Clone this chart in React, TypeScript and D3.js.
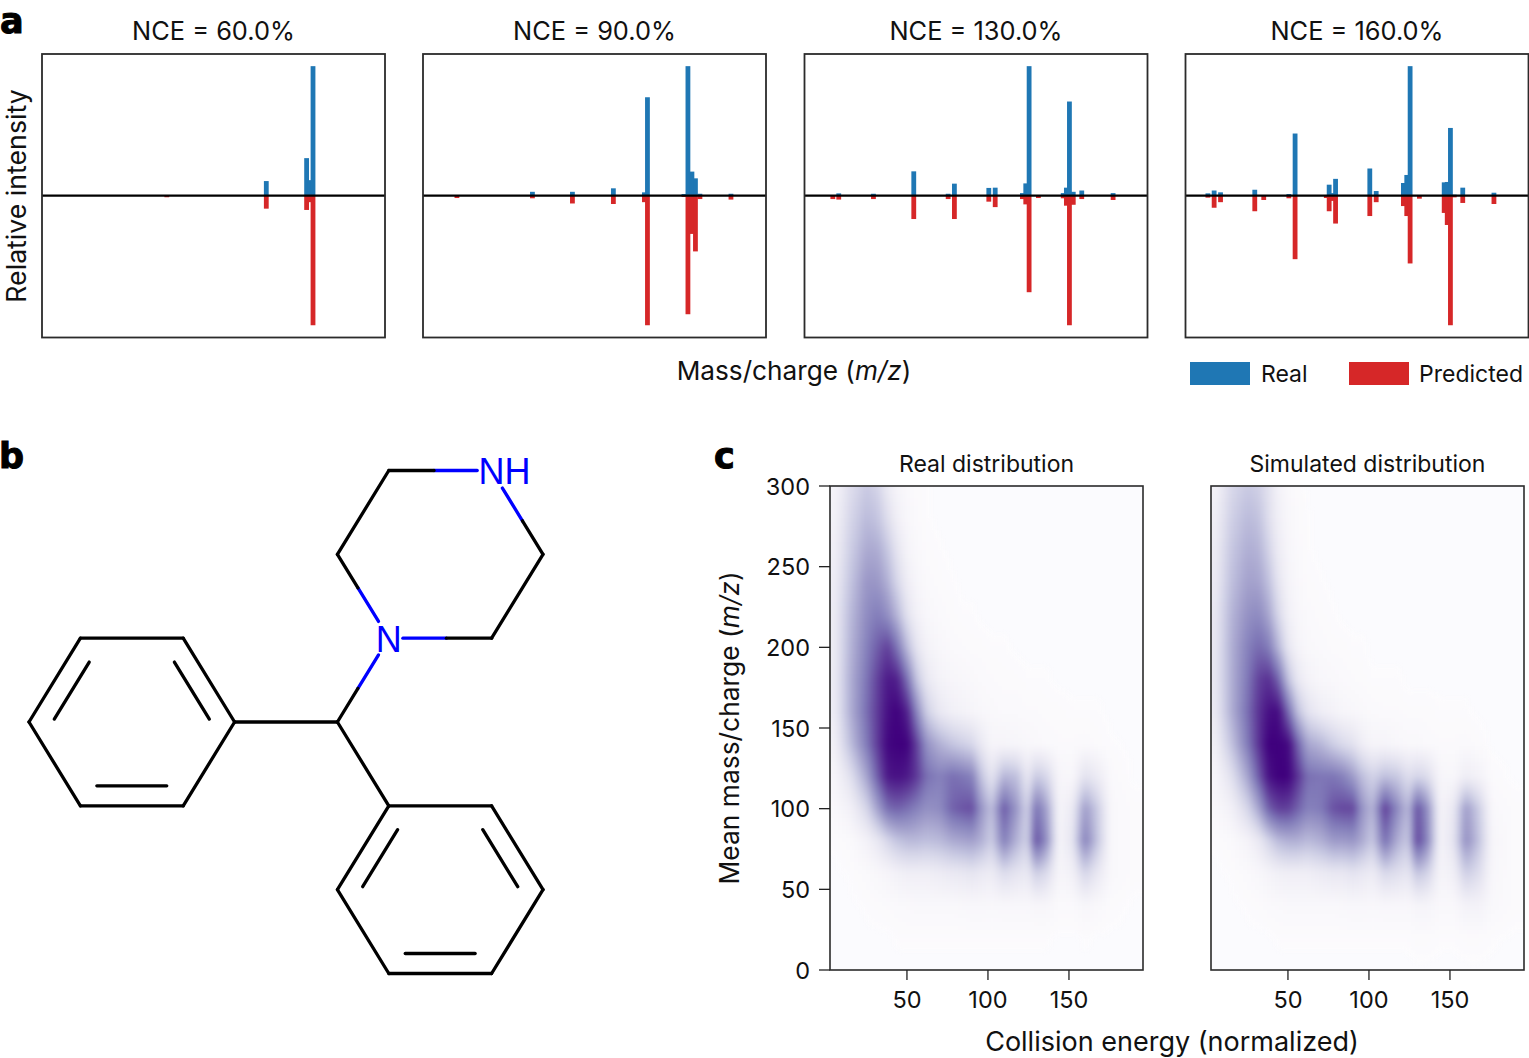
import React from "react";
import * as d3 from "d3";

// ---------- panel a: spectra ----------
const nceLabels = ["NCE = 60.0%", "NCE = 90.0%", "NCE = 130.0%", "NCE = 160.0%"];
const mz60 = [78, 140.2, 165.4, 167.6, 169.4];
const real60 = [0, 0.113, 0.29, 0.12, 1.0];
const pred60 = [0.012, 0.1, 0.11, 0.05, 1.0];
const mz90 = [21.2, 68.4, 93.4, 119, 138.4, 140.3, 163.1, 165.6, 168.1, 170.3, 173.1, 192.5];
const real90 = [0, 0.03, 0.03, 0.057, 0.026, 0.76, 0.013, 1.0, 0.186, 0.134, 0.015, 0.015];
const pred90 = [0.018, 0.02, 0.06, 0.064, 0.05, 1.0, 0.01, 0.915, 0.295, 0.43, 0.026, 0.03];
const mz130 = [17.7, 21.4, 43.1, 68.3, 89.8, 93.7, 115.2, 119.2, 136.2, 138.3, 140.4, 146.2, 161.7, 163.7, 165.6, 168, 173.3, 192.9];
const real130 = [0.003, 0.018, 0.015, 0.188, 0.015, 0.093, 0.06, 0.062, 0.02, 0.095, 1.0, 0.005, 0.02, 0.062, 0.727, 0.03, 0.04, 0.02];
const pred130 = [0.026, 0.03, 0.026, 0.18, 0.026, 0.18, 0.046, 0.088, 0.026, 0.067, 0.745, 0.018, 0.02, 0.077, 1.0, 0.07, 0.026, 0.033];
const mz160 = [14, 17.9, 21.9, 43.3, 48.9, 64.6, 68.5, 88, 89.8, 91.9, 93.8, 115.2, 119.2, 136.2, 138.3, 140.4, 146.2, 161.7, 163.6, 165.6, 168, 173.3, 192.8];
const real160 = [0.018, 0.04, 0.026, 0.046, 0, 0.013, 0.48, 0.003, 0.085, 0.02, 0.13, 0.21, 0.036, 0.098, 0.16, 1.0, 0.003, 0.103, 0.106, 0.523, 0.008, 0.062, 0.023];
const pred160 = [0.015, 0.093, 0.05, 0.12, 0.033, 0.02, 0.49, 0.018, 0.12, 0.04, 0.215, 0.157, 0.05, 0.08, 0.157, 0.523, 0.023, 0.133, 0.226, 1.0, 0.013, 0.056, 0.064];
const spectraMz = [mz60, mz90, mz130, mz160];
const spectraReal = [real60, real90, real130, real160];
const spectraPred = [pred60, pred90, pred130, pred160];

// ---------- panel c: densities on a coarse grid ----------
const energyGrid = [5, 15, 25, 32, 38, 44, 50, 56, 62, 70, 78, 84, 90, 96, 102, 110, 118, 124, 130, 136, 144, 152, 160, 168, 176, 190];
const mzGrid = [300, 280, 260, 240, 220, 200, 180, 160, 140, 120, 100, 80, 60, 40, 20, 0];
const realDensity = [
  [.06,.22,.32,.27,.14,.06,.03,.01,.005,0,0,0,0,0,0,0,0,0,0,0,0,0,0,0,0,0],
  [.08,.26,.38,.34,.22,.10,.04,.015,.005,0,0,0,0,0,0,0,0,0,0,0,0,0,0,0,0,0],
  [.10,.30,.45,.44,.33,.18,.07,.03,.01,.005,0,0,0,0,0,0,0,0,0,0,0,0,0,0,0,0],
  [.12,.34,.52,.52,.42,.26,.12,.05,.02,.01,.005,0,0,0,0,0,0,0,0,0,0,0,0,0,0,0],
  [.13,.38,.56,.62,.55,.40,.20,.09,.04,.02,.01,.005,.005,0,0,0,0,0,0,0,0,0,0,0,0,0],
  [.13,.40,.60,.72,.80,.64,.38,.18,.08,.04,.02,.015,.01,.01,.005,.005,0,0,0,0,0,0,0,0,0,0],
  [.13,.42,.64,.80,.92,.90,.66,.34,.16,.08,.05,.04,.03,.02,.015,.01,.01,.005,.005,.005,0,0,0,0,0,0],
  [.12,.42,.66,.82,.95,1,.90,.58,.30,.16,.10,.08,.06,.04,.03,.02,.02,.015,.015,.01,.01,.005,.005,.005,0,0],
  [.09,.36,.62,.82,.98,1,1,.80,.54,.42,.34,.30,.26,.15,.06,.06,.05,.04,.03,.02,.015,.015,.02,.01,.005,0],
  [.05,.20,.46,.72,.92,.95,.92,.82,.66,.60,.66,.64,.60,.34,.18,.40,.36,.16,.32,.26,.05,.04,.20,.13,.02,0],
  [.03,.09,.26,.48,.66,.70,.66,.60,.54,.56,.70,.74,.76,.52,.36,.72,.50,.28,.65,.48,.06,.14,.50,.30,.03,.01],
  [.005,.02,.08,.16,.26,.34,.38,.38,.36,.38,.44,.46,.48,.42,.30,.60,.40,.28,.75,.55,.06,.18,.60,.32,.03,.01],
  [0,.005,.02,.04,.06,.09,.11,.11,.11,.13,.15,.16,.18,.15,.13,.23,.18,.15,.30,.24,.05,.09,.27,.15,.03,.01],
  [0,0,.005,.01,.015,.02,.025,.03,.03,.03,.03,.035,.04,.04,.035,.04,.04,.04,.05,.05,.02,.02,.05,.03,.01,0],
  [0,0,0,0,0,.005,.005,.005,.005,.005,.005,.005,.005,.005,.005,.005,.005,.005,.005,.005,0,0,.005,0,0,0],
  [0,0,0,0,0,0,0,0,0,0,0,0,0,0,0,0,0,0,0,0,0,0,0,0,0,0],
];
const simulatedDensity = [
  [.08,.25,.32,.29,.20,.08,.03,.01,0,0,0,0,0,0,0,0,0,0,0,0,0,0,0,0,0,0],
  [.11,.29,.38,.35,.22,.10,.04,.015,.005,0,0,0,0,0,0,0,0,0,0,0,0,0,0,0,0,0],
  [.13,.33,.43,.41,.28,.13,.05,.02,.005,0,0,0,0,0,0,0,0,0,0,0,0,0,0,0,0,0],
  [.14,.36,.48,.47,.36,.18,.07,.03,.01,.005,0,0,0,0,0,0,0,0,0,0,0,0,0,0,0,0],
  [.16,.40,.54,.57,.46,.26,.10,.04,.02,.01,.005,0,0,0,0,0,0,0,0,0,0,0,0,0,0,0],
  [.16,.42,.60,.68,.62,.40,.17,.07,.03,.02,.01,.01,.005,.005,0,0,0,0,0,0,0,0,0,0,0,0],
  [.16,.42,.63,.80,.85,.70,.36,.16,.08,.04,.03,.02,.015,.01,.005,.005,.005,0,0,0,0,0,0,0,0,0],
  [.14,.42,.66,.84,.95,.97,.68,.36,.20,.12,.08,.05,.04,.03,.02,.015,.015,.01,.01,.01,.005,.005,.005,0,0,0],
  [.10,.34,.62,.84,1,1,.98,.70,.46,.40,.30,.24,.20,.11,.06,.06,.04,.03,.03,.02,.015,.015,.02,.01,0,0],
  [.05,.20,.46,.72,.94,1,1,.84,.66,.64,.64,.60,.50,.36,.28,.36,.32,.22,.27,.23,.05,.04,.12,.08,.01,0],
  [.03,.09,.26,.46,.70,.80,.80,.70,.60,.62,.75,.78,.78,.52,.40,.80,.55,.38,.75,.55,.07,.15,.50,.30,.03,.01],
  [.005,.02,.07,.15,.27,.38,.42,.42,.38,.42,.50,.50,.52,.44,.32,.65,.42,.32,.78,.58,.07,.18,.55,.34,.05,.01],
  [0,.005,.02,.04,.07,.10,.11,.11,.11,.14,.16,.16,.19,.16,.13,.25,.21,.17,.34,.28,.06,.10,.30,.22,.04,.01],
  [0,0,.005,.01,.02,.025,.03,.03,.03,.03,.03,.035,.04,.04,.035,.04,.04,.04,.06,.06,.03,.03,.08,.08,.03,.01],
  [0,0,0,0,0,.005,.005,.005,.005,.005,.005,.005,.005,.005,.005,.005,.005,.005,.01,.01,.005,.005,.01,.01,.005,0],
  [0,0,0,0,0,0,0,0,0,0,0,0,0,0,0,0,0,0,0,0,0,0,0,0,0,0],
];
const densityTitles = ["Real distribution", "Simulated distribution"];
const densities = [realDensity, simulatedDensity];
const energyTicks = [50, 100, 150];
const mzTicks = [0, 50, 100, 150, 200, 250, 300];

// ---------- panel b: molecule on a hexagonal lattice (half-bond, row) ----------
const atoms: [number, number][] = [
  [0, 3], [1, 2], [3, 2], [4, 3], [3, 4], [1, 4], // ring A 0-5
  [6, 3], [7, 2], [6, 1], [7, 0], [9, 0], [10, 1], [9, 2], // CH, N, piperazine 6-12
  [7, 4], [9, 4], [10, 5], [9, 6], [7, 6], [6, 5], // ring B 13-18
];
const singleBonds = [[0, 1], [1, 2], [2, 3], [3, 4], [4, 5], [5, 0], [3, 6], [6, 13], [8, 9], [11, 12], [13, 14], [14, 15], [15, 16], [16, 17], [17, 18], [18, 13]];
const doubleInner: [number, number, number][] = [[0, 1, 0], [2, 3, 0], [4, 5, 0], [13, 18, 1], [14, 15, 1], [16, 17, 1]];
const heteroBonds: [number, number, number, number][] = [
  [7, 8, 0.2, 0.6], [7, 6, 0.2, 0.6], [7, 12, 0.137, 0.56], [10, 9, 0.14, 0.56], [10, 11, 0.21, 0.6],
];
const ringCenters: [number, number][] = [[2, 3], [8, 5]];

const FONT = "Inter, 'Noto Sans', sans-serif";
const BLUE = "#1f77b4";
const RED = "#d62728";
const FRAME = "#2b2b2b";

const panelLefts = [42, 423, 804.5, 1185.5];
const PW = 343;

function Spectrum({ i }: { i: number }) {
  const left = panelLefts[i];
  const x = d3.scaleLinear().domain([0, 214.4]).range([left, left + PW]);
  const y = d3.scaleLinear().domain([-1.1, 1.1]).range([338.2, 53.2]);
  const bw = x(3) - x(0);
  const mz = spectraMz[i];
  return (
    <g>
      <text x={left + PW / 2} y={40} textAnchor="middle" fontSize={25.4}>{nceLabels[i]}</text>
      {mz.map((m, k) => (
        <rect key={"b" + k} x={x(m) - bw / 2} width={bw} y={y(spectraReal[i][k])} height={y(0) - y(spectraReal[i][k])} fill={BLUE} />
      ))}
      {mz.map((m, k) => (
        <rect key={"r" + k} x={x(m) - bw / 2} width={bw} y={y(0)} height={y(-spectraPred[i][k]) - y(0)} fill={RED} />
      ))}
      <line x1={left} x2={left + PW} y1={y(0)} y2={y(0)} stroke="#000" strokeWidth={2.2} />
      <rect x={left} y={54} width={PW} height={283.5} fill="none" stroke={FRAME} strokeWidth={1.8} />
    </g>
  );
}

function sample(grid: number[][], e: number, m: number) {
  const ex = Math.max(energyGrid[0], Math.min(energyGrid[energyGrid.length - 1], e));
  const mm = Math.max(0, Math.min(300, m));
  const c = Math.min(energyGrid.length - 2, d3.bisectRight(energyGrid, ex) - 1);
  // mzGrid is descending with a step of 20
  const r = Math.min(mzGrid.length - 2, Math.floor((300 - mm) / 20));
  const tx = (ex - energyGrid[c]) / (energyGrid[c + 1] - energyGrid[c]);
  const ty = (mzGrid[r] - mm) / 20;
  const top = grid[r][c] * (1 - tx) + grid[r][c + 1] * tx;
  const bot = grid[r + 1][c] * (1 - tx) + grid[r + 1][c + 1] * tx;
  return top * (1 - ty) + bot * ty;
}

const heatLefts = [830, 1211];
const HW = 313;
const HTOP = 486;
const HBOT = 970;

function Density({ i }: { i: number }) {
  const left = heatLefts[i];
  const x = d3.scaleLinear().domain([2.5, 195.7]).range([left, left + HW]);
  const y = d3.scaleLinear().domain([0, 300]).range([HBOT, HTOP]);
  const cells: React.ReactNode[] = [];
  const step = 4;
  for (let px = -8; px < HW + 8; px += step) {
    for (let py = -8; py < HBOT - HTOP + 8; py += step) {
      const v = sample(densities[i], x.invert(left + px + step / 2), y.invert(HTOP + py + step / 2));
      if (v < 0.003) continue;
      cells.push(<rect key={px + "_" + py} x={left + px} y={HTOP + py} width={step + 0.5} height={step + 0.5} fill={d3.interpolatePurples(v)} />);
    }
  }
  return (
    <g>
      <clipPath id={"clip" + i}><rect x={left} y={HTOP} width={HW} height={HBOT - HTOP} /></clipPath>
      <rect x={left} y={HTOP} width={HW} height={HBOT - HTOP} fill="#fbfbfe" />
      <g clipPath={`url(#clip${i})`}>
        <g filter="url(#soft)" shapeRendering="crispEdges">{cells}</g>
      </g>
      <rect x={left} y={HTOP} width={HW} height={HBOT - HTOP} fill="none" stroke={FRAME} strokeWidth={1.6} />
      <text x={left + HW / 2} y={472} textAnchor="middle" fontSize={23}>{densityTitles[i]}</text>
      {energyTicks.map((t) => (
        <g key={t}>
          <line x1={x(t)} x2={x(t)} y1={HBOT} y2={HBOT + 10} stroke="#222" strokeWidth={1.3} />
          <text x={x(t)} y={1008} textAnchor="middle" fontSize={23.5}>{t}</text>
        </g>
      ))}
      {i === 0 && mzTicks.map((t) => (
        <g key={t}>
          <line x1={left - 11} x2={left} y1={y(t)} y2={y(t)} stroke="#222" strokeWidth={1.3} />
          <text x={left - 20} y={y(t) + 8.5} textAnchor="end" fontSize={23.5}>{t}</text>
        </g>
      ))}
    </g>
  );
}

function Molecule() {
  const X = d3.scaleLinear().domain([0, 10]).range([29, 543]);
  const Y = d3.scaleLinear().domain([0, 6]).range([470.5, 973.5]);
  const P = (a: number): [number, number] => [X(atoms[a][0]), Y(atoms[a][1])];
  const lines: React.ReactNode[] = [];
  singleBonds.forEach(([a, b], k) => {
    const [x1, y1] = P(a), [x2, y2] = P(b);
    lines.push(<line key={"s" + k} x1={x1} y1={y1} x2={x2} y2={y2} stroke="#000" />);
  });
  doubleInner.forEach(([a, b, c], k) => {
    const [x1, y1] = P(a), [x2, y2] = P(b);
    const cx = X(ringCenters[c][0]), cy = Y(ringCenters[c][1]);
    const dx = x2 - x1, dy = y2 - y1, len = Math.hypot(dx, dy);
    let nx = -dy / len, ny = dx / len;
    const mx = (x1 + x2) / 2, my = (y1 + y2) / 2;
    if ((cx - mx) * nx + (cy - my) * ny < 0) { nx = -nx; ny = -ny; }
    lines.push(
      <line key={"d" + k} x1={x1 + dx * 0.16 + nx * 20} y1={y1 + dy * 0.16 + ny * 20} x2={x2 - dx * 0.16 + nx * 20} y2={y2 - dy * 0.16 + ny * 20} stroke="#000" />
    );
  });
  heteroBonds.forEach(([a, b, f0, f1], k) => {
    const [x1, y1] = P(a), [x2, y2] = P(b);
    const at = (t: number): [number, number] => [x1 + (x2 - x1) * t, y1 + (y2 - y1) * t];
    const s = at(f0), m = at(f1);
    lines.push(<line key={"hb" + k} x1={s[0]} y1={s[1]} x2={m[0]} y2={m[1]} stroke="#0000ff" />);
    lines.push(<line key={"hk" + k} x1={m[0]} y1={m[1]} x2={x2} y2={y2} stroke="#000" />);
  });
  return (
    <g strokeWidth={3.3} strokeLinecap="round">
      {lines}
      <text x={X(7) - 13} y={Y(2) + 13.5} fontFamily="'Liberation Sans', sans-serif" fontSize={36} fill="#0000ff" stroke="none">N</text>
      <text x={X(9) - 13} y={Y(0) + 13.5} fontFamily="'Liberation Sans', sans-serif" fontSize={36} fill="#0000ff" stroke="none">NH</text>
    </g>
  );
}

const Legend = () => (
  <g fontSize={23}>
    <rect x={1190} y={362} width={60} height={23} fill={BLUE} />
    <text x={1261} y={382}>Real</text>
    <rect x={1349} y={362} width={60} height={23} fill={RED} />
    <text x={1419} y={382}>Predicted</text>
  </g>
);

const LETTER = "'DejaVu Sans', sans-serif";

export default function App() {
  return (
    <svg width={1529} height={1058} viewBox="0 0 1529 1058" style={{ position: "absolute", left: 0, top: 0, display: "block", background: "#fff" }} fontFamily={FONT} fill="#111">
      <defs>
        <filter id="soft" x="-5%" y="-5%" width="110%" height="110%" colorInterpolationFilters="sRGB">
          <feGaussianBlur stdDeviation="2.5" />
        </filter>
      </defs>
      <g fontFamily={LETTER} fontSize={35} fontWeight={700} fill="#000" stroke="#000" strokeWidth={1}>
        <text x={0} y={33}>a</text>
        <text x={-1} y={468}>b</text>
        <text x={714} y={468}>c</text>
      </g>
      {nceLabels.map((_, i) => <Spectrum key={i} i={i} />)}
      <text transform="translate(26,196) rotate(-90)" textAnchor="middle" fontSize={26.7}>Relative intensity</text>
      <text x={794} y={380} textAnchor="middle" fontSize={26.2}>Mass/charge (<tspan fontStyle="italic">m/z</tspan>)</text>
      <Legend />
      <Molecule />
      {densityTitles.map((_, i) => <Density key={i} i={i} />)}
      <text transform="translate(739,728) rotate(-90)" textAnchor="middle" fontSize={26.4}>Mean mass/charge (<tspan fontStyle="italic">m/z</tspan>)</text>
      <text x={1172} y={1051} textAnchor="middle" fontSize={27}>Collision energy (normalized)</text>
    </svg>
  );
}
